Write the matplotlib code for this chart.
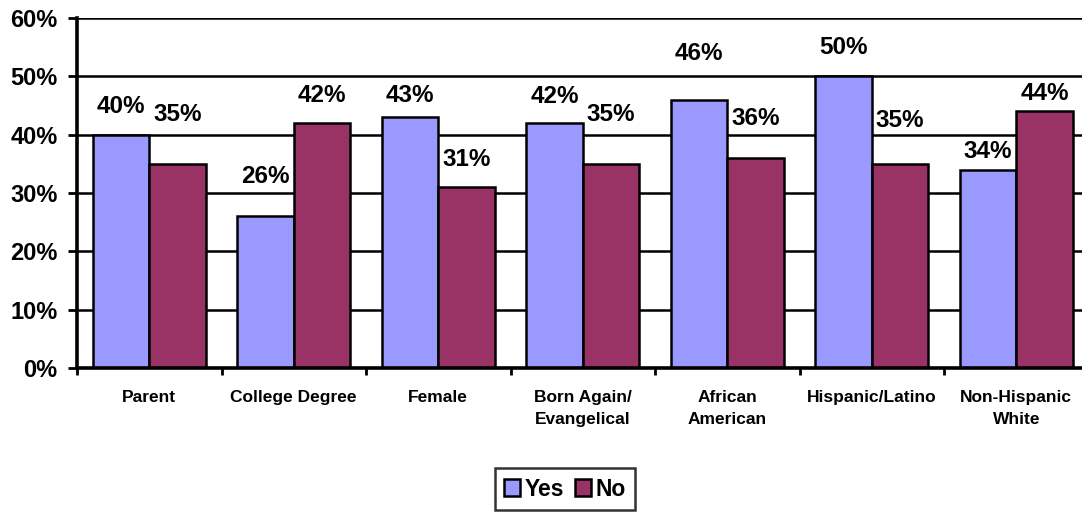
import numpy as np
import matplotlib
matplotlib.use("Agg")
import matplotlib.pyplot as plt
from matplotlib.patches import Patch

plt.rcParams['font.family'] = ['Liberation Sans', 'DejaVu Sans']
plt.rcParams['font.weight'] = 'bold'

categories = ["Parent", "College Degree", "Female", "Born Again/\nEvangelical",
              "African\nAmerican", "Hispanic/Latino", "Non-Hispanic\nWhite"]
yes_values = [40, 26, 43, 42, 46, 50, 34]
no_values = [35, 42, 31, 35, 36, 35, 44]
series_names = ["Yes", "No"]
y_ticks = [0, 10, 20, 30, 40, 50, 60]

# label heights (in % units) for the value annotations
yes_label_y = [44.9, 32.8, 46.7, 46.6, 53.9, 54.9, 37.2]
no_label_y = [43.4, 46.7, 35.7, 43.4, 42.8, 42.5, 47.1]

yes_color = "#9999FF"
no_color = "#993366"

fig = plt.figure(figsize=(10.82, 5.18), dpi=100)
ax = fig.add_axes([77 / 1082, 150 / 518, 1011.5 / 1082, 350 / 518])

x = np.arange(len(categories))
bw = 0.39
ax.bar(x - bw / 2, yes_values, bw, color=yes_color, edgecolor="black", linewidth=1.8, zorder=3)
ax.bar(x + bw / 2, no_values, bw, color=no_color, edgecolor="black", linewidth=1.8, zorder=3)

for xi, v, ly in zip(x, yes_values, yes_label_y):
    ax.text(xi - bw / 2, ly, f"{v}%", ha="center", va="center", fontsize=17.5,
            fontweight="bold", zorder=4)
for xi, v, ly in zip(x, no_values, no_label_y):
    ax.text(xi + bw / 2, ly, f"{v}%", ha="center", va="center", fontsize=17.5,
            fontweight="bold", zorder=4)

ax.set_xlim(-0.5, len(categories) - 0.5)
ax.set_ylim(0, 60)
ax.set_yticks(y_ticks)
ax.set_yticklabels([f"{t}%" for t in y_ticks], fontsize=17, fontweight="bold")
ax.yaxis.grid(True, color="black", linewidth=1.8, zorder=0)
ax.set_axisbelow(True)

ax.set_xticks(np.arange(len(categories) + 1) - 0.5)
ax.set_xticklabels([])
ax.set_xticks(x, minor=True)
ax.set_xticklabels(categories, minor=True, fontsize=12.5, fontweight="bold",
                   linespacing=1.65, va="top")
ax.tick_params(axis="x", which="minor", length=0, pad=15.5)
ax.tick_params(axis="x", which="major", length=5, width=2, direction="out")
ax.tick_params(axis="y", length=6.5, width=2, direction="out", pad=7.5)

for side in ["top", "right"]:
    ax.spines[side].set_visible(False)
for side in ["left", "bottom"]:
    ax.spines[side].set_linewidth(2.6)
    ax.spines[side].set_zorder(5)

handles = [Patch(facecolor=yes_color, edgecolor="black", linewidth=1.8),
           Patch(facecolor=no_color, edgecolor="black", linewidth=1.8)]
leg = fig.legend(handles, series_names, loc="center", bbox_to_anchor=(565 / 1082, 1 - 489 / 518),
                 ncol=2, prop={"weight": "bold", "size": 16.5},
                 frameon=True, fancybox=False, edgecolor="black",
                 handlelength=0.7, handleheight=0.7, handletextpad=0.2,
                 columnspacing=0.5, borderpad=0.4, borderaxespad=0)
leg.get_frame().set_linewidth(1.8)

fig.savefig("out.png", dpi=100)
